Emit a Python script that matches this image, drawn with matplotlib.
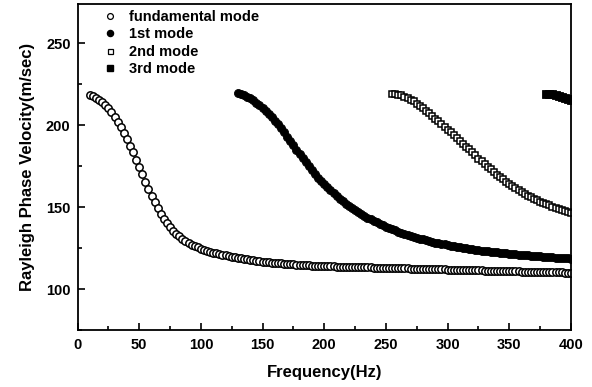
import numpy as np
import matplotlib
matplotlib.use("Agg")
import matplotlib.pyplot as plt
from matplotlib.ticker import MultipleLocator

plt.rcParams['font.family'] = ['Liberation Sans', 'DejaVu Sans']
plt.rcParams['font.weight'] = 'bold'

# ---------------- data ----------------
series_labels = ["fundamental mode", "1st mode", "2nd mode", "3rd mode"]

freq_step = 2.5  # Hz between samples

fund_start = 10.0
fund_vel = [
    218.5, 217.8, 216.9, 215.7, 214.2, 212.4, 210.3, 207.9, 205.2, 202.2,
    198.9, 195.4, 191.6, 187.6, 183.4, 179.0, 174.5, 170.0, 165.5, 161.1,
    156.9, 152.9, 149.2, 145.9, 142.9, 140.2, 137.8, 135.7, 133.8, 132.1,
    130.6, 129.3, 128.1, 127.1, 126.2, 125.4, 124.7, 124.0, 123.4, 122.8,
    122.3, 121.8, 121.3, 120.9, 120.5, 120.1, 119.7, 119.4, 119.0, 118.7,
    118.4, 118.1, 117.8, 117.5, 117.3, 117.0, 116.8, 116.6, 116.4, 116.2,
    116.0, 115.8, 115.6, 115.5, 115.3, 115.2, 115.0, 114.9, 114.8, 114.6,
    114.5, 114.4, 114.3, 114.2, 114.1, 114.0, 114.0, 113.9, 113.9, 113.8,
    113.7, 113.7, 113.6, 113.6, 113.5, 113.5, 113.4, 113.4, 113.3, 113.3,
    113.2, 113.2, 113.1, 113.1, 113.0, 113.0, 112.9, 112.9, 112.8, 112.8,
    112.7, 112.7, 112.6, 112.6, 112.5, 112.5, 112.4, 112.4, 112.3, 112.3,
    112.2, 112.2, 112.1, 112.1, 112.0, 112.0, 111.9, 111.9, 111.8, 111.8,
    111.7, 111.7, 111.6, 111.6, 111.5, 111.5, 111.4, 111.4, 111.3, 111.3,
    111.2, 111.2, 111.1, 111.1, 111.0, 111.0, 110.9, 110.9, 110.8, 110.8,
    110.7, 110.7, 110.6, 110.6, 110.5, 110.5, 110.4, 110.4, 110.3, 110.3,
    110.2, 110.2, 110.1, 110.1, 110.0, 110.0, 109.9,
]

mode1_start = 130.0
mode1_vel = [
    219.5, 219.0, 218.3, 217.4, 216.4, 215.2, 213.8, 212.3, 210.7, 208.9,
    207.1, 205.0, 202.8, 200.5, 198.1, 195.6, 193.0, 190.3, 187.7, 185.1,
    182.5, 179.9, 177.4, 174.9, 172.5, 170.2, 168.0, 165.9, 163.9, 162.0,
    160.2, 158.5, 156.8, 155.2, 153.7, 152.2, 150.8, 149.5, 148.2, 147.0,
    145.8, 144.7, 143.6, 142.6, 141.6, 140.7, 139.8, 138.9, 138.1, 137.3,
    136.5, 135.8, 135.1, 134.4, 133.7, 133.1, 132.5, 131.9, 131.3, 130.8,
    130.3, 129.8, 129.3, 128.8, 128.4, 128.0, 127.6, 127.2, 126.8, 126.5,
    126.1, 125.8, 125.5, 125.2, 124.9, 124.6, 124.3, 124.0, 123.8, 123.5,
    123.3, 123.1, 122.8, 122.6, 122.4, 122.2, 122.0, 121.8, 121.6, 121.4,
    121.2, 121.0, 120.8, 120.7, 120.5, 120.3, 120.2, 120.0, 119.9, 119.7,
    119.6, 119.4, 119.3, 119.2, 119.0, 118.9, 118.8, 118.7, 118.6,
]

mode2_start = 255.0
mode2_vel = [
    219.3, 219.1, 218.7, 218.2, 217.5, 216.6, 215.6, 214.5, 213.2, 211.8,
    210.3, 208.7, 207.3, 205.8, 204.1, 202.4, 200.7, 199.0, 197.3, 195.6,
    193.9, 192.2, 190.5, 188.8, 187.0, 185.2, 183.4, 181.6, 179.6, 177.9,
    176.2, 174.6, 173.0, 171.4, 169.8, 168.3, 166.9, 165.5, 164.2, 162.9,
    161.7, 160.5, 159.3, 158.2, 157.1, 156.1, 155.1, 154.2, 153.3, 152.5,
    151.7, 151.0, 150.3, 149.6, 148.9, 148.3, 147.7, 147.1, 146.5,
]

mode3_start = 380.0
mode3_vel = [219.3, 219.1, 218.8, 218.4, 217.9, 217.3, 216.7, 216.0, 215.3]

x_ticks = [0, 50, 100, 150, 200, 250, 300, 350, 400]
y_ticks = [100, 150, 200, 250]

# ---------------- figure ----------------
W, H = 592, 387
fig = plt.figure(figsize=(W / 100, H / 100), dpi=100)
ax = fig.add_axes([77.5 / W, 1 - 330 / H, (571 - 77.5) / W, (330 - 4) / H])


def freqs(start, vals):
    return start + freq_step * np.arange(len(vals))


h0, = ax.plot(freqs(fund_start, fund_vel), fund_vel, linestyle='none', marker='o',
              ms=5.3, mfc='white', mec='black', mew=1.1)
h1, = ax.plot(freqs(mode1_start, mode1_vel), mode1_vel, linestyle='none', marker='o',
              ms=5.8, mfc='black', mec='black', mew=0.6)
h2, = ax.plot(freqs(mode2_start, mode2_vel), mode2_vel, linestyle='none', marker='s',
              ms=4.3, mfc='white', mec='black', mew=1.1)
h3, = ax.plot(freqs(mode3_start, mode3_vel), mode3_vel, linestyle='none', marker='s',
              ms=5.3, mfc='black', mec='black', mew=0.6)

ax.set_xlim(0, 400)
ax.set_ylim(75, 274)
ax.set_xticks(x_ticks)
ax.set_yticks(y_ticks)
ax.xaxis.set_minor_locator(MultipleLocator(25))
ax.yaxis.set_minor_locator(MultipleLocator(25))
ax.tick_params(which='both', direction='in', top=False, right=False,
               width=1.2, labelsize=10.5)
ax.tick_params(which='major', length=5)
ax.tick_params(which='minor', length=3)
ax.tick_params(axis='x', pad=6)
ax.tick_params(axis='y', pad=5)
for lab in ax.get_xticklabels() + ax.get_yticklabels():
    lab.set_fontweight('bold')
for sp in ax.spines.values():
    sp.set_linewidth(1.3)

ax.set_xlabel("Frequency(Hz)", fontsize=12, fontweight='bold', labelpad=9)
ax.set_ylabel("Rayleigh Phase Velocity(m/sec)", fontsize=12, fontweight='bold',
              labelpad=8)

# legend with small markers, as in the reference
lh0, = ax.plot([], [], linestyle='none', marker='o', ms=4.2, mfc='white', mec='black', mew=0.9)
lh1, = ax.plot([], [], linestyle='none', marker='o', ms=4.4, mfc='black', mec='black')
lh2, = ax.plot([], [], linestyle='none', marker='s', ms=3.6, mfc='white', mec='black', mew=0.9)
lh3, = ax.plot([], [], linestyle='none', marker='s', ms=4.2, mfc='black', mec='black')
leg = ax.legend([lh0, lh1, lh2, lh3], series_labels,
                loc='upper left', bbox_to_anchor=(0.055, 0.982), frameon=False,
                borderaxespad=0, borderpad=0, handlelength=0.8,
                handletextpad=0.9, labelspacing=0.24,
                prop={'weight': 'bold', 'size': 10.5})

fig.savefig("out.png", dpi=100)
